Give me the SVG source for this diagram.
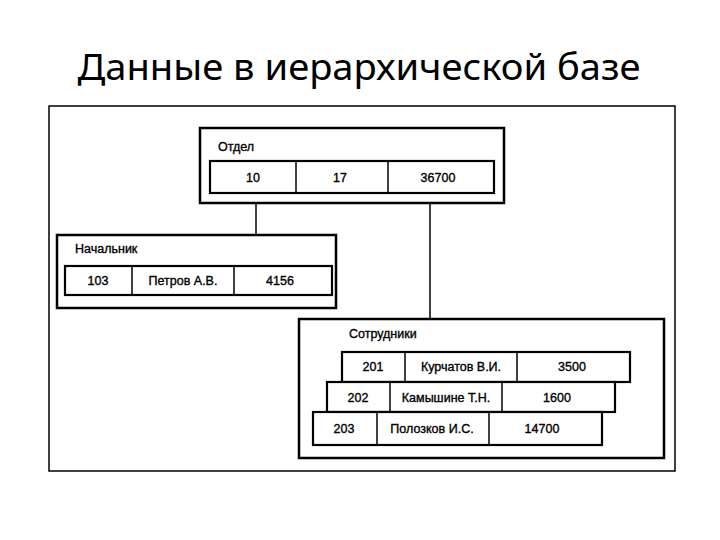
<svg xmlns="http://www.w3.org/2000/svg" width="720" height="540" viewBox="0 0 720 540">
<style>
.t{font-family:"Liberation Sans",Arial,sans-serif;font-size:12.5px;fill:#000;stroke:#000;stroke-width:0.35}
.c{text-anchor:middle}
.box{fill:#fff;stroke:#000;stroke-width:2.5}
.cell{fill:#fff;stroke:#000;stroke-width:2.2}
.div{stroke:#000;stroke-width:1.5}
.conn{stroke:#000;stroke-width:1.5;fill:none}
</style>
<rect width="720" height="540" fill="#fff"/>
<text x="359" y="80" text-anchor="middle" font-family="'Noto Sans','Open Sans',sans-serif" font-size="36" textLength="563" lengthAdjust="spacingAndGlyphs" fill="#000">Данные в иерархической базе</text>
<rect x="49" y="106" width="626" height="365" fill="none" stroke="#000" stroke-width="1.5"/>
<g id="connectors">
<line class="conn" x1="256" y1="203" x2="256" y2="235"/>
<line class="conn" x1="430" y1="203" x2="430" y2="319"/>
</g>
<g id="otdel">
<rect class="box" x="200" y="128" width="304" height="75"/>
<text class="t" x="218" y="151">Отдел</text>
<rect class="cell" x="210" y="161" width="284" height="32"/>
<line class="div" x1="296" y1="161" x2="296" y2="193"/>
<line class="div" x1="388" y1="161" x2="388" y2="193"/>
<text class="t c" x="253" y="182">10</text>
<text class="t c" x="340" y="182">17</text>
<text class="t c" x="438" y="182">36700</text>
</g>
<g id="nachalnik">
<rect class="box" x="57" y="235" width="279" height="73"/>
<text class="t" x="75" y="253">Начальник</text>
<rect class="cell" x="65" y="266" width="267" height="29"/>
<line class="div" x1="132" y1="266" x2="132" y2="295"/>
<line class="div" x1="234" y1="266" x2="234" y2="295"/>
<text class="t c" x="98" y="285">103</text>
<text class="t c" x="183" y="285">Петров А.В.</text>
<text class="t c" x="280" y="285">4156</text>
</g>
<g id="sotrudniki">
<rect class="box" x="299" y="319" width="365" height="139"/>
<text class="t" x="349" y="338">Сотрудники</text>
<g id="row201">
<rect class="cell" x="342" y="352" width="288" height="30"/>
<line class="div" x1="405" y1="352" x2="405" y2="382"/>
<line class="div" x1="517" y1="352" x2="517" y2="382"/>
<text class="t c" x="373" y="371">201</text>
<text class="t c" x="461" y="371">Курчатов В.И.</text>
<text class="t c" x="572" y="371">3500</text>
</g>
<g id="row202">
<rect class="cell" x="327" y="382" width="288" height="30"/>
<line class="div" x1="390" y1="382" x2="390" y2="412"/>
<line class="div" x1="502" y1="382" x2="502" y2="412"/>
<text class="t c" x="358" y="402">202</text>
<text class="t c" x="446" y="402">Камышине Т.Н.</text>
<text class="t c" x="557" y="402">1600</text>
</g>
<g id="row203">
<rect class="cell" x="313" y="412" width="289" height="33"/>
<line class="div" x1="377" y1="412" x2="377" y2="445"/>
<line class="div" x1="489" y1="412" x2="489" y2="445"/>
<text class="t c" x="344" y="433">203</text>
<text class="t c" x="432" y="433">Полозков И.С.</text>
<text class="t c" x="542" y="433">14700</text>
</g>
</g>
</svg>
